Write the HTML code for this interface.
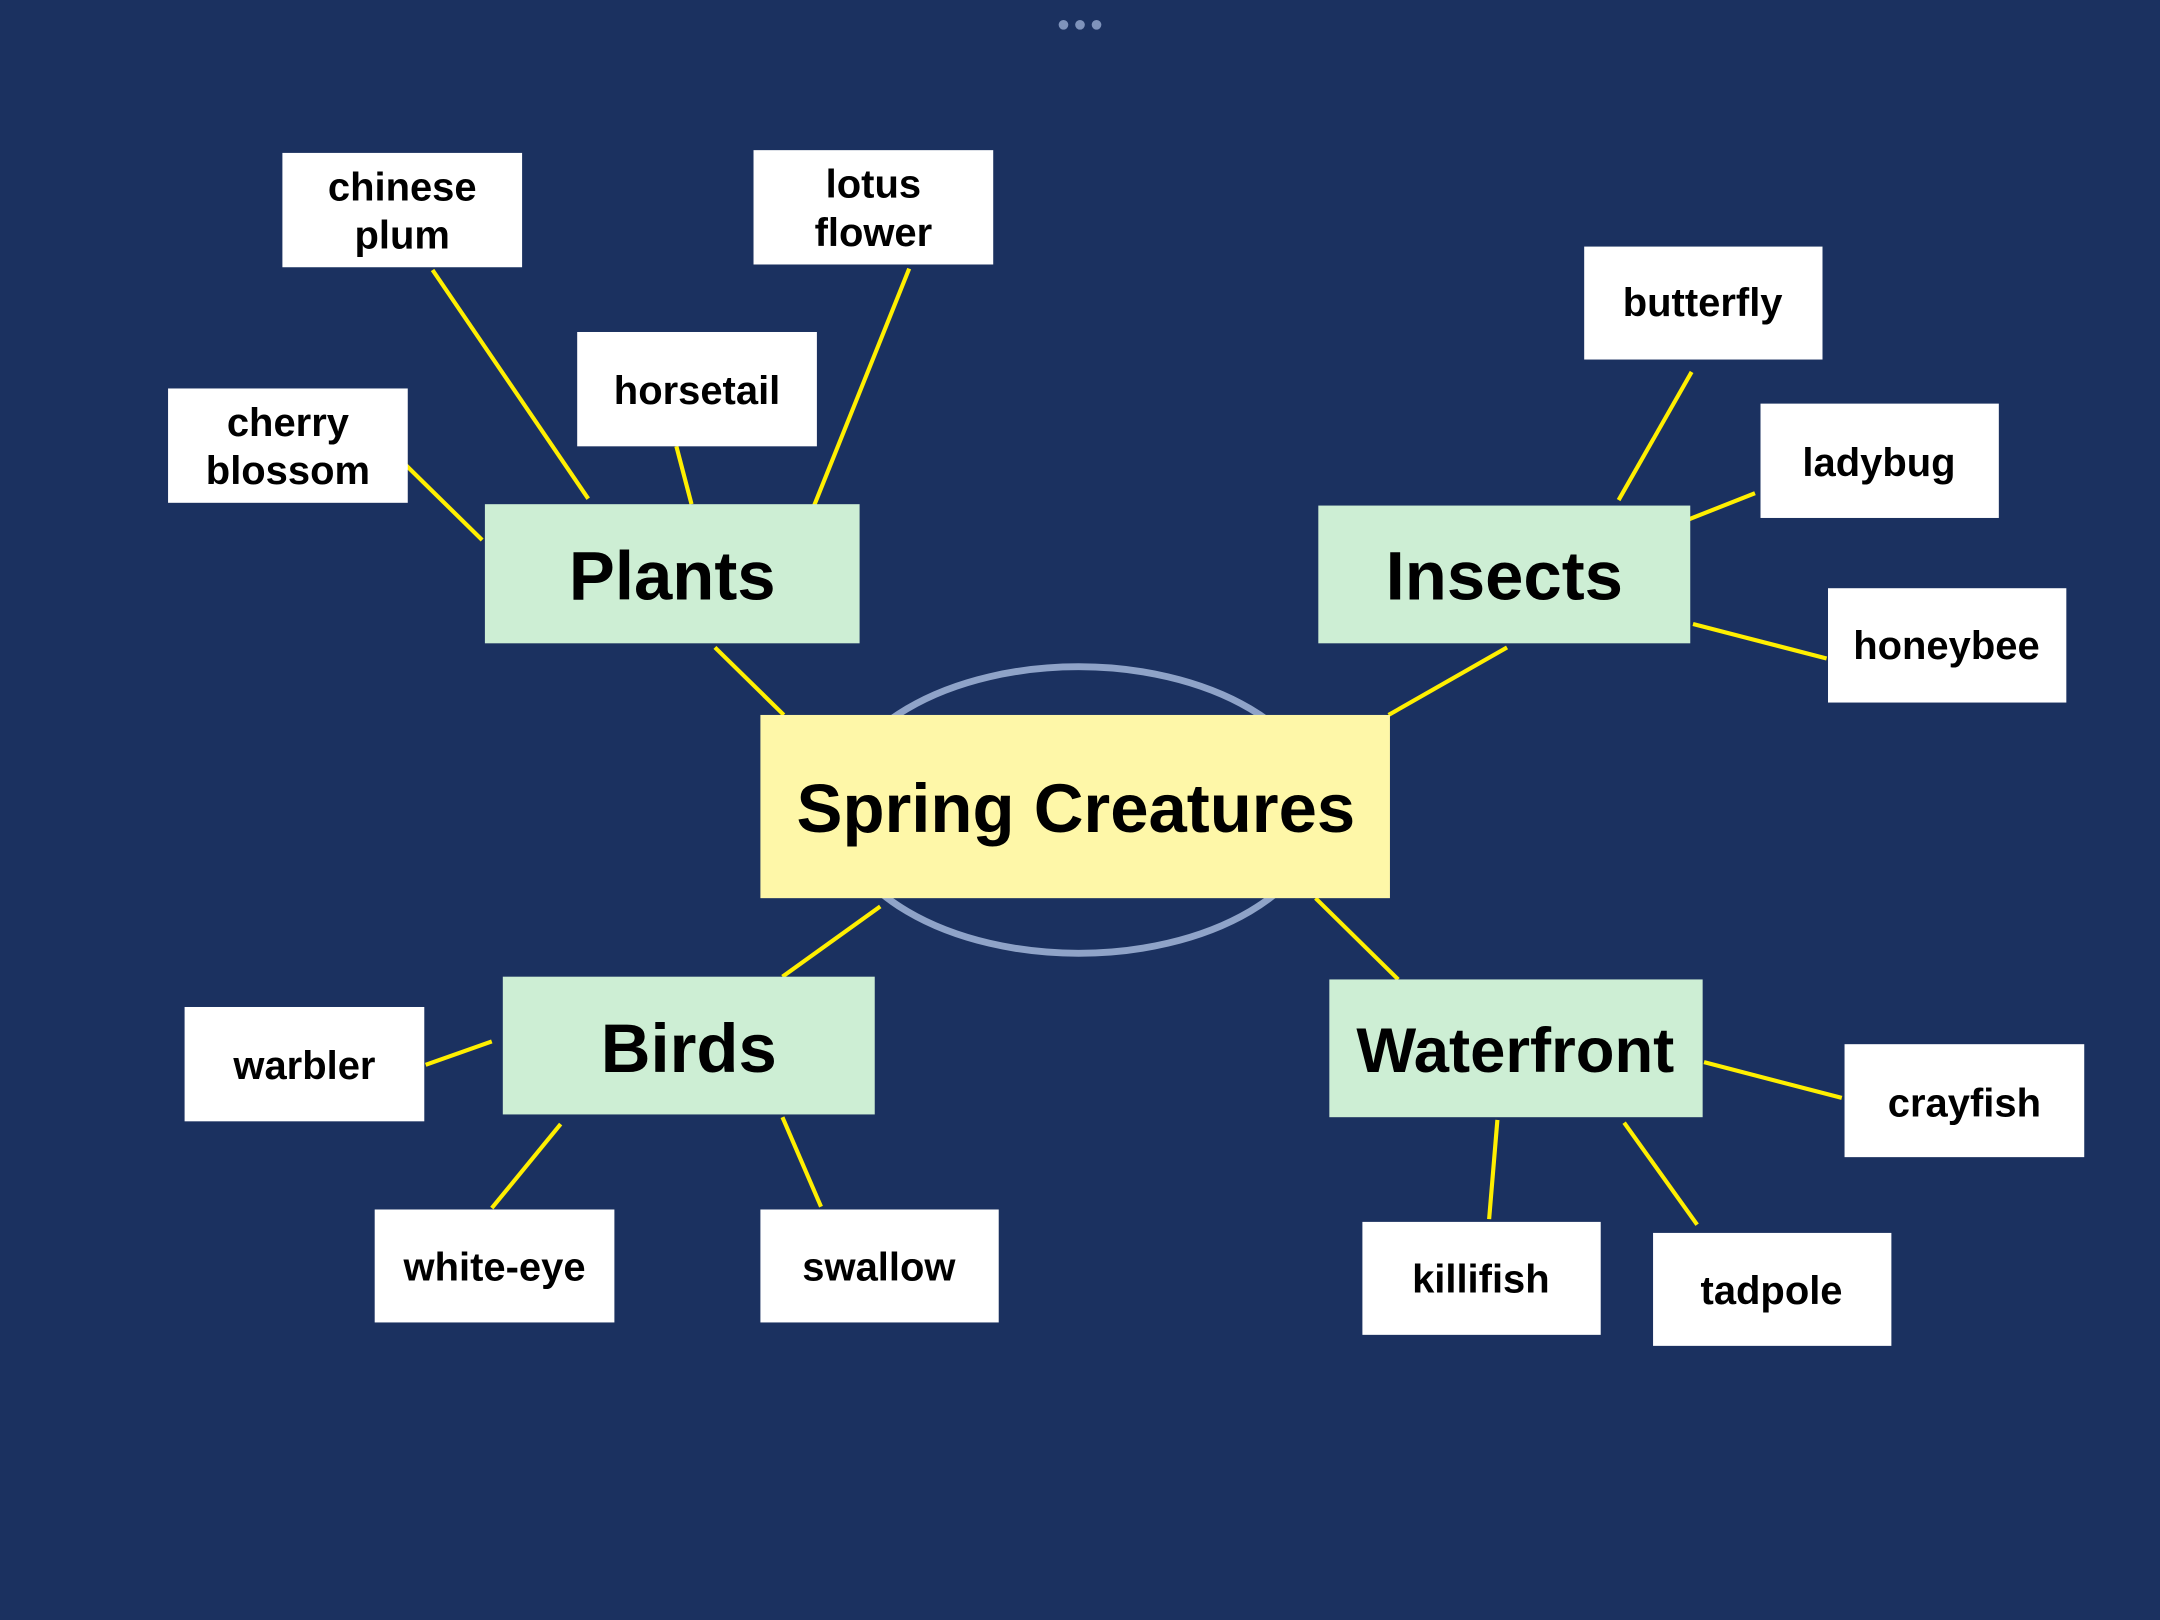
<!DOCTYPE html>
<html><head><meta charset="utf-8"><style>
html,body{margin:0;padding:0;background:#1b3160;width:2160px;height:1620px;overflow:hidden}
svg{display:block}
text{font-family:"Liberation Sans",sans-serif;font-weight:bold;fill:#000;text-anchor:middle;dominant-baseline:central}
.leaf{font-size:29px}
.cat{font-size:50px}
</style></head><body>
<svg width="2160" height="1620" viewBox="0 0 1568 1176" xmlns="http://www.w3.org/2000/svg">
<rect width="1568" height="1176" fill="#1b3160"/>
<circle cx="772" cy="18" r="3.5" fill="#7f93bb"/><circle cx="784" cy="18" r="3.5" fill="#7f93bb"/><circle cx="796" cy="18" r="3.5" fill="#7f93bb"/>
<ellipse cx="783" cy="588" rx="176" ry="104" fill="none" stroke="#8fa3c8" stroke-width="5"/>
<g stroke="#ffef00" stroke-width="3">
<line x1="314" y1="196" x2="427" y2="362"/>
<line x1="491" y1="324" x2="502" y2="366"/>
<line x1="660" y1="195" x2="591" y2="367"/>
<line x1="294" y1="337" x2="350" y2="392"/>
<line x1="519" y1="470" x2="569" y2="519"/>
<line x1="1228" y1="270" x2="1175" y2="363"/>
<line x1="1274" y1="358" x2="1226" y2="377"/>
<line x1="1229" y1="453" x2="1326" y2="478"/>
<line x1="1094" y1="470" x2="1008" y2="519"/>
<line x1="639" y1="658" x2="568" y2="709"/>
<line x1="357" y1="756" x2="309" y2="773"/>
<line x1="407" y1="816" x2="357" y2="877"/>
<line x1="568" y1="811" x2="596" y2="876"/>
<line x1="955" y1="652" x2="1015" y2="711"/>
<line x1="1237" y1="771" x2="1337" y2="797"/>
<line x1="1087" y1="813" x2="1081" y2="885"/>
<line x1="1179" y1="815" x2="1232" y2="889"/>
</g>
<g fill="#fff">
<rect x="205" y="111" width="174" height="83"/>
<rect x="547" y="109" width="174" height="83"/>
<rect x="419" y="241" width="174" height="83"/>
<rect x="122" y="282" width="174" height="83"/>
<rect x="1150" y="179" width="173" height="82"/>
<rect x="1278" y="293" width="173" height="83"/>
<rect x="1327" y="427" width="173" height="83"/>
<rect x="134" y="731" width="174" height="83"/>
<rect x="272" y="878" width="174" height="82"/>
<rect x="552" y="878" width="173" height="82"/>
<rect x="1339" y="758" width="174" height="82"/>
<rect x="989" y="887" width="173" height="82"/>
<rect x="1200" y="895" width="173" height="82"/>
</g>
<g fill="#cdeed4">
<rect x="352" y="366" width="272" height="101"/>
<rect x="957" y="367" width="270" height="100"/>
<rect x="365" y="709" width="270" height="100"/>
<rect x="965" y="711" width="271" height="100"/>
</g>
<rect x="552" y="519" width="457" height="133" fill="#fef7a8"/>
<g class="leaf">
<text x="292" y="136" class="leaf">chinese</text><text x="292" y="171" class="leaf">plum</text>
<text x="634" y="134" class="leaf">lotus</text><text x="634" y="169" class="leaf">flower</text>
<text x="506" y="284" class="leaf">horsetail</text>
<text x="209" y="307" class="leaf">cherry</text><text x="209" y="342" class="leaf">blossom</text>
<text x="1236" y="220" class="leaf">butterfly</text>
<text x="1364" y="336" class="leaf">ladybug</text>
<text x="1413" y="469" class="leaf">honeybee</text>
<text x="221" y="774" class="leaf">warbler</text>
<text x="359" y="920" class="leaf">white-eye</text>
<text x="638" y="920" class="leaf">swallow</text>
<text x="1426" y="801" class="leaf">crayfish</text>
<text x="1075" y="929" class="leaf">killifish</text>
<text x="1286" y="937" class="leaf">tadpole</text>
</g>
<text x="488" y="418" class="cat">Plants</text>
<text x="1092" y="418" class="cat">Insects</text>
<text x="500" y="761" class="cat">Birds</text>
<text x="1100" y="763" class="cat" style="font-size:46px">Waterfront</text>
<text x="781" y="587" class="cat">Spring Creatures</text>
</svg>
</body></html>
